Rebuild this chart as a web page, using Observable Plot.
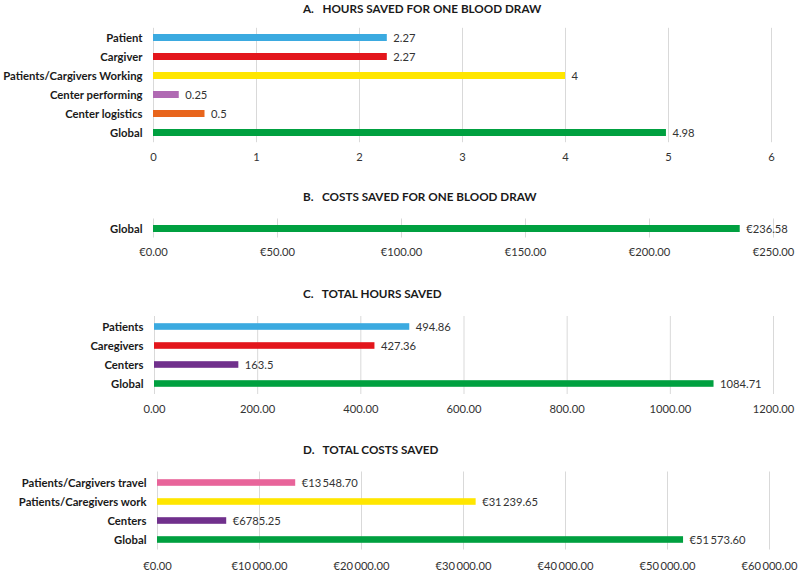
<!DOCTYPE html>
<html>
<head>
<meta charset="utf-8">
<script src="https://cdn.jsdelivr.net/npm/d3@7"></script>
<script src="https://cdn.jsdelivr.net/npm/@observablehq/plot@0.6"></script>
<style>
  html, body { margin: 0; padding: 0; background: #fff; }
  #wrap { position: relative; width: 798px; height: 573px; font-family: Lato, "Open Sans", sans-serif; }
  .title { position: absolute; left: 303px; font-weight: bold; font-size: 11.7px; color: #1a1a1a; white-space: pre; line-height: 16px; }
  .panel { position: absolute; left: 0; }
</style>
</head>
<body>
<div id="wrap"></div>
<script>
// Panel A: hours saved for one blood draw
const catsA = ["Patient", "Cargiver", "Patients/Cargivers Working", "Center performing", "Center logistics", "Global"];
const valsA = [2.27, 2.27, 4, 0.25, 0.5, 4.98];
const textA = ["2.27", "2.27", "4", "0.25", "0.5", "4.98"];
const colorsA = ["#3BAAE0", "#E3161C", "#FFE600", "#B06AB3", "#E8651C", "#00A040"];
const ticksA = [0, 1, 2, 3, 4, 5, 6];

// Panel B: costs saved for one blood draw
const catsB = ["Global"];
const valsB = [236.58];
const textB = ["€236.58"];
const colorsB = ["#00A040"];
const ticksB = [0, 50, 100, 150, 200, 250];

// Panel C: total hours saved
const catsC = ["Patients", "Caregivers", "Centers", "Global"];
const valsC = [494.86, 427.36, 163.5, 1084.71];
const textC = ["494.86", "427.36", "163.5", "1084.71"];
const colorsC = ["#3BAAE0", "#E3161C", "#70308C", "#00A040"];
const ticksC = [0, 200, 400, 600, 800, 1000, 1200];

// Panel D: total costs saved
const catsD = ["Patients/Cargivers travel", "Patients/Caregivers work", "Centers", "Global"];
const valsD = [13548.70, 31239.65, 6785.25, 51573.60];
const textD = ["€13\u2009548.70", "€31\u2009239.65", "€6785.25", "€51\u2009573.60"];
const colorsD = ["#E8649A", "#FFE600", "#70308C", "#00A040"];
const ticksD = [0, 10000, 20000, 30000, 40000, 50000, 60000];

const titles = [
  ["A.   HOURS SAVED FOR ONE BLOOD DRAW", 0],
  ["B.   COSTS SAVED FOR ONE BLOOD DRAW", 188],
  ["C.   TOTAL HOURS SAVED", 285],
  ["D.   TOTAL COSTS SAVED", 441]
];

const wrap = document.getElementById("wrap");
for (const [t, y] of titles) {
  const d = document.createElement("div");
  d.className = "title";
  d.style.top = y + "px";
  d.textContent = t;
  wrap.appendChild(d);
}

const fmtThousands = v => {
  const s = v.toFixed(2);
  const [i, f] = s.split(".");
  const ii = i.length > 3 ? i.slice(0, i.length - 3) + "\u2009" + i.slice(-3) : i;
  return ii + "." + f;
};

function panel(cfg) {
  const data = cfg.cats.map((c, i) => ({c, v: cfg.vals[i], t: cfg.texts[i], col: cfg.colors[i]}));
  const chart = Plot.plot({
    width: 798,
    height: cfg.height,
    marginTop: cfg.mt,
    marginBottom: cfg.mb,
    marginLeft: cfg.ml,
    marginRight: cfg.mr,
    style: {fontFamily: "Lato, 'Open Sans', sans-serif", fontSize: "11.2px", color: "#404040", background: "transparent"},
    x: {domain: [0, cfg.ticks[cfg.ticks.length - 1]], label: null},
    y: {domain: cfg.cats, label: null, padding: 0},
    color: {type: "identity"},
    marks: [
      Plot.gridX(cfg.ticks, {stroke: "#d9d9d9", strokeOpacity: 1}),
      Plot.barX(data, {x: "v", y: "c", fill: "col", insetTop: cfg.inset, insetBottom: cfg.inset}),
      Plot.text(data, {x: "v", y: "c", text: "t", dx: 6, textAnchor: "start", fill: "#333", fontSize: 11.2}),
      Plot.axisX(cfg.ticks, {tickSize: 0, tickPadding: cfg.tp, tickFormat: cfg.fmt, label: null, fill: "#333"}),
      Plot.axisY({tickSize: 0, tickPadding: 11, fontWeight: "bold", fontSize: 11.3, label: null, fill: "#1a1a1a"})
    ]
  });
  chart.classList.add("panel");
  chart.style.top = cfg.top + "px";
  wrap.appendChild(chart);
}

panel({top: 0, height: 175, mt: 27.8, mb: 32.8, ml: 153, mr: 27, inset: 6,
  cats: catsA, vals: valsA, texts: textA, colors: colorsA, ticks: ticksA, fmt: d => String(d), tp: 10});
panel({top: 180, height: 85, mt: 38.5, mb: 27.5, ml: 153, mr: 25, inset: 6,
  cats: catsB, vals: valsB, texts: textB, colors: colorsB, ticks: ticksB, fmt: d => "€" + d.toFixed(2), tp: 10});
panel({top: 270, height: 150, mt: 46, mb: 26, ml: 154, mr: 25, inset: 6.2,
  cats: catsC, vals: valsC, texts: textC, colors: colorsC, ticks: ticksC, fmt: d => d.toFixed(2), tp: 11});
panel({top: 425, height: 148, mt: 46.5, mb: 23.5, ml: 157, mr: 29, inset: 6.2,
  cats: catsD, vals: valsD, texts: textD, colors: colorsD, ticks: ticksD, fmt: d => "€" + fmtThousands(d), tp: 12});
</script>
</body>
</html>
